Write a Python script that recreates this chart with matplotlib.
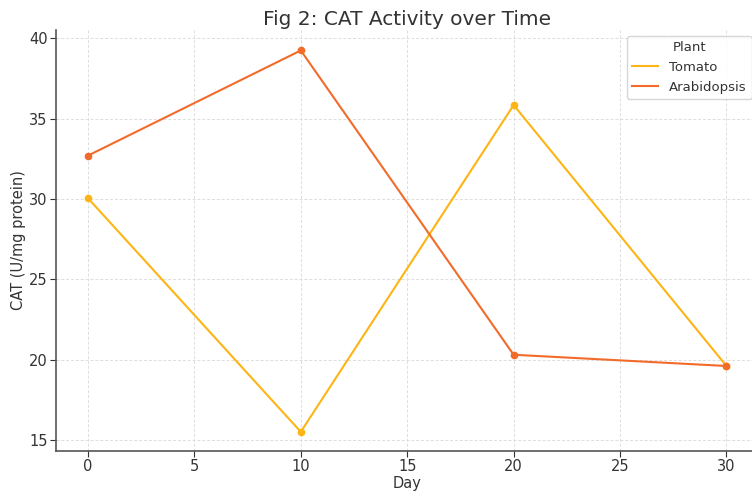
import matplotlib
matplotlib.use('Agg')
import matplotlib.pyplot as plt
from matplotlib.lines import Line2D

# Data
days = [0, 10, 20, 30]
tomato = [30.05, 15.5, 35.85, 19.6]
arabidopsis = [32.7, 39.25, 20.3, 19.6]

col_tomato = '#FDB515'
col_arab = '#F26B2A'
textcol = '#333333'

fig = plt.figure(figsize=(7.52, 4.93), dpi=100)
ax = fig.add_axes([0.0745, 0.085, 0.934, 0.855])

ax.plot(days, tomato, color=col_tomato, lw=1.5, marker='o', ms=4.5)
ax.plot(days, arabidopsis, color=col_arab, lw=1.5, marker='o', ms=4.5)

ax.set_xlim(-1.5, 31.5)
ax.set_ylim(14.3, 40.55)
ax.set_xticks([0, 5, 10, 15, 20, 25, 30])
ax.set_yticks([15, 20, 25, 30, 35, 40])

ax.grid(True, ls=(0, (3, 2)), color='#dddddd', lw=0.7)
ax.set_axisbelow(True)
for s in ['top', 'right']:
    ax.spines[s].set_visible(False)
for s in ['left', 'bottom']:
    ax.spines[s].set_color('#555555')
    ax.spines[s].set_linewidth(1.2)
ax.tick_params(colors=textcol, labelsize=10.5, length=4, pad=2)

ax.set_xlabel('Day', fontsize=10.5, color=textcol, labelpad=1)
ax.set_ylabel('CAT (U/mg protein)', fontsize=10.5, color=textcol, labelpad=2)
ax.set_title('Fig 2: CAT Activity over Time', fontsize=14.5, color=textcol, pad=3)

handles = [Line2D([], [], color=col_tomato, lw=1.5),
           Line2D([], [], color=col_arab, lw=1.5)]
leg = ax.legend(handles, ['Tomato', 'Arabidopsis'], title='Plant', loc='upper right',
                fontsize=9.5, title_fontsize=9.5, frameon=True, edgecolor='#cccccc',
                bbox_to_anchor=(1.0, 1.0))
for t in leg.get_texts():
    t.set_color(textcol)
leg.get_title().set_color(textcol)

fig.savefig('out.png', dpi=100)
